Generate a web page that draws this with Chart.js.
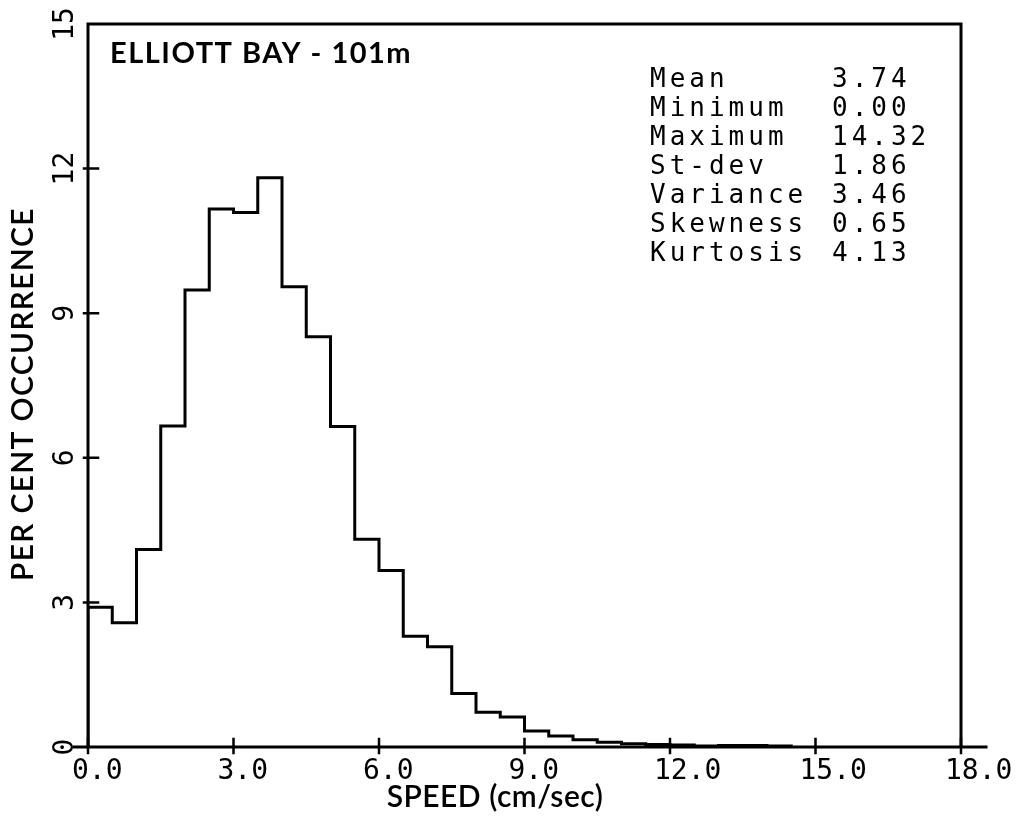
<!DOCTYPE html>
<html>
<head>
<meta charset="utf-8">
<script src="https://cdn.jsdelivr.net/npm/chart.js@4.4.1/dist/chart.umd.min.js"></script>
<style>
  html, body { margin: 0; background: #fff; }
  canvas { display: block; }
</style>
</head>
<body>
<canvas id="chart" width="1026" height="818"></canvas>
<script>
// histogram bins (0.5 cm/sec wide), left edges
const binStarts = [0, 0.5, 1.0, 1.5, 2.0, 2.5, 3.0, 3.5, 4.0, 4.5, 5.0, 5.5, 6.0, 6.5, 7.0,
  7.5, 8.0, 8.5, 9.0, 9.5, 10.0, 10.5, 11.0, 11.5, 12.0, 12.5, 13.0, 13.5, 14.0];
const percents = [2.90, 2.58, 4.10, 6.66, 9.48, 11.16, 11.09, 11.81, 9.55, 8.51, 6.65, 4.31, 3.66, 2.30, 2.08,
  1.11, 0.72, 0.62, 0.33, 0.23, 0.15, 0.10, 0.07, 0.05, 0.04, 0.02, 0.03, 0.03, 0.02];
const binWidth = 0.5;

const xTicks = [0, 3, 6, 9, 12, 15, 18];
const yTicks = [0, 3, 6, 9, 12, 15];

const statNames = ['Mean', 'Minimum', 'Maximum', 'St-dev', 'Variance', 'Skewness', 'Kurtosis'];
const statValues = ['3.74', '0.00', '14.32', '1.86', '3.46', '0.65', '4.13'];

const chartTitle = 'ELLIOTT BAY - 101m';
const xTitle = 'SPEED (cm/sec)';
const yTitle = 'PER CENT OCCURRENCE';

// outline points for the stepped line
const points = [{ x: binStarts[0], y: 0 }];
binStarts.forEach((x, i) => points.push({ x, y: percents[i] }));
points.push({ x: binStarts[binStarts.length - 1] + binWidth, y: 0 });

const monoFont = '"DejaVu Sans Mono", monospace';
const sansFont = 'Lato, "Open Sans", sans-serif';

// box, ticks, rotated y labels, titles and stats table
const framePlugin = {
  id: 'frame',
  afterDraw(chart) {
    const { ctx, chartArea: a, scales: { x, y } } = chart;
    ctx.save();
    ctx.strokeStyle = '#000';
    ctx.fillStyle = '#000';
    ctx.lineWidth = 3;
    ctx.lineCap = 'square';

    ctx.beginPath();
    ctx.moveTo(a.left, a.bottom);
    ctx.lineTo(a.left, a.top);
    ctx.lineTo(a.right, a.top);
    ctx.lineTo(a.right, a.bottom);
    ctx.moveTo(a.left - 14, a.bottom);
    ctx.lineTo(a.right + 25, a.bottom);
    ctx.stroke();

    ctx.lineWidth = 2.5;
    ctx.beginPath();
    xTicks.forEach(v => {
      const px = x.getPixelForValue(v);
      ctx.moveTo(px, a.bottom - 8);
      ctx.lineTo(px, a.bottom + 6);
    });
    yTicks.slice(1, -1).forEach(v => {
      const py = y.getPixelForValue(v);
      ctx.moveTo(a.left - 4, py);
      ctx.lineTo(a.left + 10, py);
    });
    ctx.stroke();

    // y tick labels, rotated
    ctx.font = '28px ' + monoFont;
    ctx.textAlign = 'center';
    ctx.textBaseline = 'middle';
    yTicks.forEach(v => {
      ctx.save();
      ctx.translate(a.left - 22, y.getPixelForValue(v));
      ctx.rotate(-Math.PI / 2);
      ctx.fillText(String(v), 0, 0);
      ctx.restore();
    });

    // axis titles
    ctx.font = '600 30px ' + sansFont;
    ctx.textBaseline = 'alphabetic';
    ctx.letterSpacing = '0.5px';
    ctx.fillText(xTitle, 495, 807);
    ctx.letterSpacing = '1.3px';
    ctx.save();
    ctx.translate(33, 394);
    ctx.rotate(-Math.PI / 2);
    ctx.fillText(yTitle, 0, 0);
    ctx.restore();

    // plot title
    ctx.font = 'bold 29px ' + sansFont;
    ctx.letterSpacing = '1.5px';
    ctx.textAlign = 'left';
    ctx.fillText(chartTitle, 110, 63);

    // stats table
    ctx.font = '26px ' + monoFont;
    ctx.letterSpacing = '4px';
    statNames.forEach((n, i) => {
      ctx.fillText(n, 650, 87 + i * 29);
      ctx.fillText(statValues[i], 832, 87 + i * 29);
    });
    ctx.restore();
  }
};

new Chart(document.getElementById('chart'), {
  type: 'line',
  data: {
    datasets: [{
      data: points,
      stepped: true,
      borderColor: '#000',
      borderWidth: 3,
      pointRadius: 0,
      fill: false
    }]
  },
  options: {
    responsive: false,
    animation: false,
    layout: { padding: { top: 24, right: 65, left: 0, bottom: 0 } },
    plugins: { legend: { display: false }, tooltip: { enabled: false } },
    scales: {
      x: {
        type: 'linear',
        min: 0,
        max: 18,
        grid: { display: false },
        border: { display: false },
        afterBuildTicks: s => { s.ticks = xTicks.map(v => ({ value: v })); },
        afterFit: s => { s.height = 71; s.paddingLeft = 0; s.paddingRight = 0; },
        ticks: {
          autoSkip: false,
          maxRotation: 0,
          align: 'start',
          labelOffset: -16,
          padding: 0,
          color: '#000',
          font: { family: monoFont, size: 28 },
          callback: v => Number(v).toFixed(1)
        }
      },
      y: {
        min: 0,
        max: 15,
        grid: { display: false },
        border: { display: false },
        afterBuildTicks: s => { s.ticks = yTicks.map(v => ({ value: v })); },
        afterFit: s => { s.width = 88; s.paddingTop = 0; s.paddingBottom = 0; },
        ticks: { display: false }
      }
    }
  },
  plugins: [framePlugin]
});
</script>
</body>
</html>
